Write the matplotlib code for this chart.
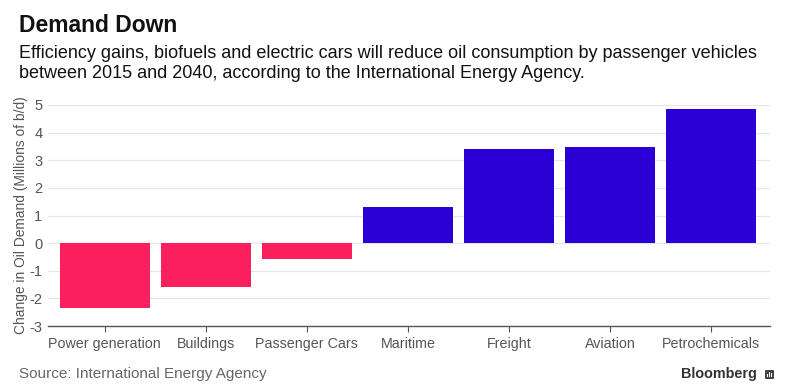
import matplotlib.pyplot as plt
from matplotlib.patches import FancyBboxPatch

plt.rcParams['font.family'] = ['Liberation Sans', 'DejaVu Sans']

# data
categories = ['Power generation', 'Buildings', 'Passenger Cars', 'Maritime',
              'Freight', 'Aviation', 'Petrochemicals']
change = [-2.35, -1.58, -0.59, 1.29, 3.39, 3.49, 4.87]
yticks = [-3, -2, -1, 0, 1, 2, 3, 4, 5]

pink = '#fc1f5e'
blue = '#2b00d4'
colors = [pink if v < 0 else blue for v in change]

fig = plt.figure(figsize=(7.88, 3.9), dpi=100)
ax = fig.add_axes([48 / 788, 1 - 326 / 390, (770 - 48) / 788, (326 - 105) / 390])

x = range(len(categories))
ax.bar(x, change, width=0.89, color=colors, zorder=2, clip_on=False)

ax.set_xlim(-0.56, 6.58)
ax.set_ylim(-3, 5)
ax.set_yticks(yticks)
ax.set_yticklabels([str(t) for t in yticks])
ax.set_xticks(list(x))
ax.set_xticklabels(categories)
ax.grid(axis='y', color='#e6e6e6', linewidth=0.9, zorder=0)

for s in ['top', 'right', 'left']:
    ax.spines[s].set_visible(False)
ax.spines['bottom'].set_color('#555555')
ax.spines['bottom'].set_linewidth(1.0)
ax.spines['bottom'].set_zorder(3)
ax.tick_params(axis='y', length=0, pad=4, labelsize=10.5, labelcolor='#555555')
ax.tick_params(axis='x', length=4, color='#555555', pad=4, labelsize=10.3,
               labelcolor='#555555')
ax.set_ylabel('Change in Oil Demand (Millions of b/d)', fontsize=9.9,
              color='#555555', labelpad=1)

fig.text(19 / 788, 1 - 26 / 390, 'Demand Down', fontsize=16.5, fontweight='bold',
         color='#111111', va='center')
fig.text(19 / 788, 1 - 53 / 390,
         'Efficiency gains, biofuels and electric cars will reduce oil consumption by passenger vehicles',
         fontsize=13, color='#111111', va='center')
fig.text(19 / 788, 1 - 74 / 390,
         'between 2015 and 2040, according to the International Energy Agency.',
         fontsize=13, color='#111111', va='center')
fig.text(19 / 788, 1 - 374 / 390, 'Source: International Energy Agency',
         fontsize=11, color='#666666', va='center')
fig.text(757 / 788, 1 - 374 / 390, 'Bloomberg', fontsize=10.4, fontweight='bold',
         color='#333333', va='center', ha='right')

# small logo box next to the brand name
logo = FancyBboxPatch((765 / 788, 1 - 379 / 390), 9 / 788, 9 / 390,
                      boxstyle='round,pad=0,rounding_size=0.002',
                      transform=fig.transFigure, facecolor='#444444',
                      edgecolor='none')
fig.patches.append(logo)
for i, h in enumerate([3, 5, 4]):
    fig.patches.append(plt.Rectangle(((767 + 2 * i) / 788, 1 - 377 / 390 - 0 / 390),
                                     1 / 788, h / 390, transform=fig.transFigure,
                                     facecolor='white', edgecolor='none'))

fig.savefig('out.png', dpi=100)
